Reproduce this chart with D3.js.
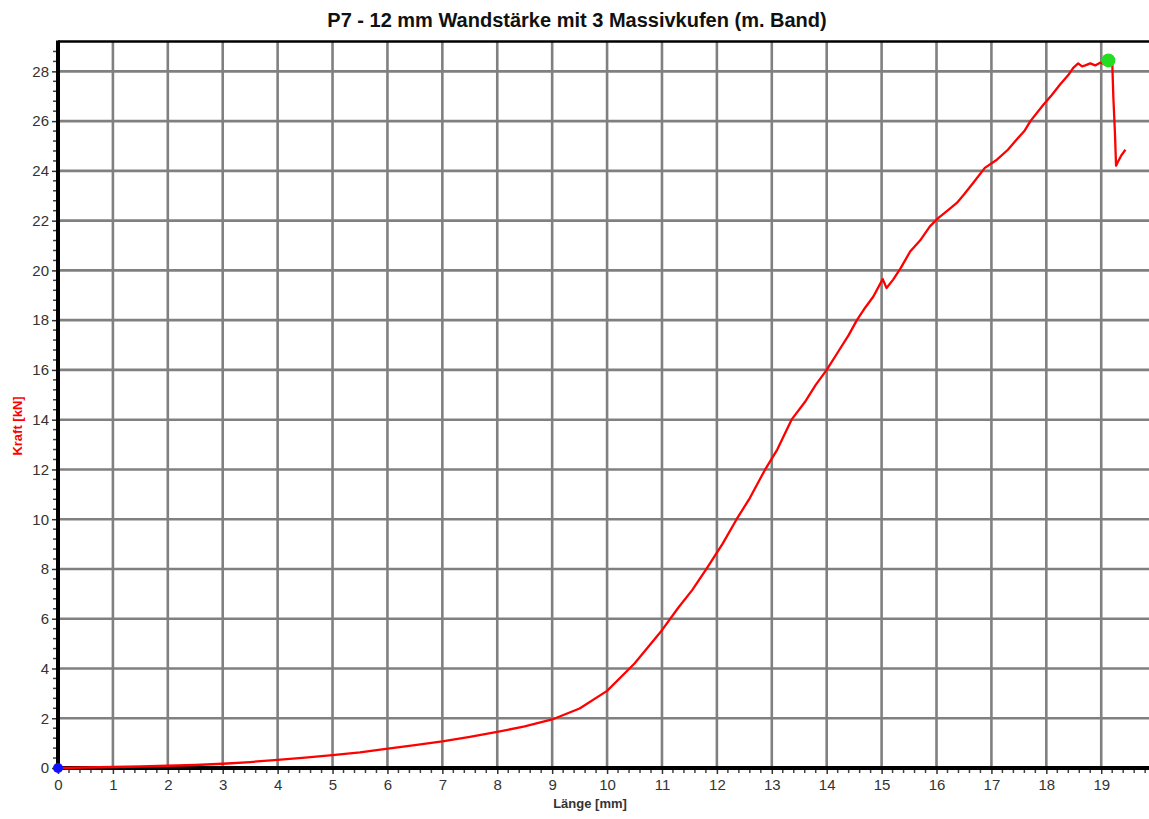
<!DOCTYPE html>
<html><head><meta charset="utf-8">
<script src="https://cdn.jsdelivr.net/npm/d3@7"></script>
<style>body{margin:0;background:#fff;}svg{display:block;font-family:"Liberation Sans",Arial,sans-serif;}</style>
</head><body>
<svg id="c" width="1149" height="819"></svg>
<script>
const title = "P7 - 12 mm Wandstärke mit 3 Massivkufen (m. Band)";
const xLabel = "Länge [mm]";
const yLabel = "Kraft [kN]";
const xTicks = [0,1,2,3,4,5,6,7,8,9,10,11,12,13,14,15,16,17,18,19];
const yTicks = [0,2,4,6,8,10,12,14,16,18,20,22,24,26,28];
const lengthMM = [0,0.5,1,1.5,2,2.5,3,3.5,4,4.5,5,5.5,5.87,6.5,7,7.5,8,8.5,9,9.5,10,10.5,11,11.3,11.55,11.81,12.1,12.36,12.6,12.88,13.1,13.36,13.6,13.8,14.0,14.2,14.4,14.55,14.7,14.85,15.02,15.09,15.21,15.35,15.52,15.7,15.88,16.03,16.2,16.37,16.5,16.67,16.88,17.1,17.3,17.46,17.6,17.71,17.95,18.1,18.25,18.4,18.49,18.58,18.65,18.71,18.8,18.89,18.98,19.05,19.13,19.2,19.22,19.25,19.27,19.3,19.36,19.44];
const kraftKN = [0,0.02,0.04,0.06,0.09,0.12,0.17,0.24,0.33,0.42,0.52,0.63,0.74,0.92,1.07,1.25,1.45,1.67,1.95,2.39,3.1,4.2,5.54,6.45,7.15,8.0,9.0,10.0,10.85,12.0,12.8,14.0,14.7,15.4,16.0,16.7,17.4,18.0,18.5,18.95,19.65,19.29,19.63,20.1,20.76,21.2,21.77,22.1,22.4,22.71,23.05,23.52,24.12,24.45,24.85,25.26,25.6,26.0,26.67,27.05,27.47,27.85,28.14,28.32,28.2,28.24,28.32,28.24,28.35,28.3,28.44,28.4,27.0,25.5,24.21,24.35,24.6,24.85];
const startPoint = [0,0];
const maxPoint = [19.13,28.44];

const svg = d3.select("#c");
const L=58, R=1149, T=41.5, B=768;
const x = d3.scaleLinear().domain([0,19.87]).range([L,R]);
const y = d3.scaleLinear().domain([0,29.2]).range([B,T]);

// grid
svg.append("g").selectAll("line").data(xTicks.filter(d=>d>0)).join("line")
  .attr("x1",d=>x(d)).attr("x2",d=>x(d)).attr("y1",T).attr("y2",B)
  .attr("stroke","#808080").attr("stroke-width",2.6);
svg.append("g").selectAll("line").data(yTicks.filter(d=>d>0)).join("line")
  .attr("y1",d=>y(d)).attr("y2",d=>y(d)).attr("x1",L).attr("x2",R)
  .attr("stroke","#808080").attr("stroke-width",2.6);

// top border
svg.append("line").attr("x1",L).attr("x2",R).attr("y1",T).attr("y2",T).attr("stroke","#000").attr("stroke-width",2.5);

// minor ticks
const xMinor = d3.range(0,19.87,0.2).filter(v=>Math.abs(v-Math.round(v))>1e-6);
const yMinor = d3.range(0,29.2,0.4).filter(v=>Math.abs(v/2-Math.round(v/2))>1e-6);

const xAxis = d3.axisBottom(x).tickValues(xTicks).tickFormat(d3.format("d")).tickSize(6).tickPadding(5);
const gx = svg.append("g").attr("transform",`translate(0,${B})`).call(xAxis);
gx.select(".domain").remove();
gx.selectAll(".tick line").attr("stroke","#333").attr("stroke-width",1.5);
gx.selectAll(".tick text").attr("font-size",15).attr("fill","#333").attr("font-family","Liberation Sans, Arial, sans-serif");
svg.append("g").selectAll("line").data(xMinor).join("line")
  .attr("x1",d=>x(d)).attr("x2",d=>x(d)).attr("y1",B).attr("y2",B+5).attr("stroke","#444").attr("stroke-width",1.5);

const yAxis = d3.axisLeft(y).tickValues(yTicks).tickFormat(d3.format("d")).tickSize(6).tickPadding(3);
const gy = svg.append("g").attr("transform",`translate(${L},0)`).call(yAxis);
gy.select(".domain").remove();
gy.selectAll(".tick line").attr("stroke","#333").attr("stroke-width",1.5);
gy.selectAll(".tick text").attr("font-size",15).attr("fill","#333").attr("font-family","Liberation Sans, Arial, sans-serif");
svg.append("g").selectAll("line").data(yMinor).join("line")
  .attr("y1",d=>y(d)).attr("y2",d=>y(d)).attr("x1",L-5).attr("x2",L).attr("stroke","#444").attr("stroke-width",1.5);

// axis lines
svg.append("line").attr("x1",L).attr("x2",R).attr("y1",B).attr("y2",B).attr("stroke","#000").attr("stroke-width",4);
svg.append("line").attr("x1",L).attr("x2",L).attr("y1",T-1).attr("y2",B+2).attr("stroke","#000").attr("stroke-width",4);

// curve
const data = lengthMM.map((v,i)=>[v,kraftKN[i]]);
svg.append("path").datum(data)
  .attr("d",d3.line().x(d=>x(d[0])).y(d=>y(d[1])))
  .attr("fill","none").attr("stroke","#ff0000").attr("stroke-width",2.3).attr("stroke-linejoin","round");

svg.append("circle").attr("cx",x(startPoint[0])).attr("cy",y(startPoint[1])).attr("r",5).attr("fill","#1010ff");
svg.append("circle").attr("cx",x(maxPoint[0])).attr("cy",y(maxPoint[1])).attr("r",7).attr("fill","#22dd22");

// texts
svg.append("text").attr("x",577).attr("y",27).attr("text-anchor","middle")
  .attr("font-size",20).attr("font-weight","bold").attr("fill","#111").text(title);
svg.append("text").attr("x",590).attr("y",808).attr("text-anchor","middle")
  .attr("font-size",13).attr("font-weight","bold").attr("fill","#333").text(xLabel);
svg.append("text").attr("transform","translate(22,426) rotate(-90)").attr("text-anchor","middle")
  .attr("font-size",13).attr("font-weight","bold").attr("fill","#ff0000").text(yLabel);
</script>
</body></html>
